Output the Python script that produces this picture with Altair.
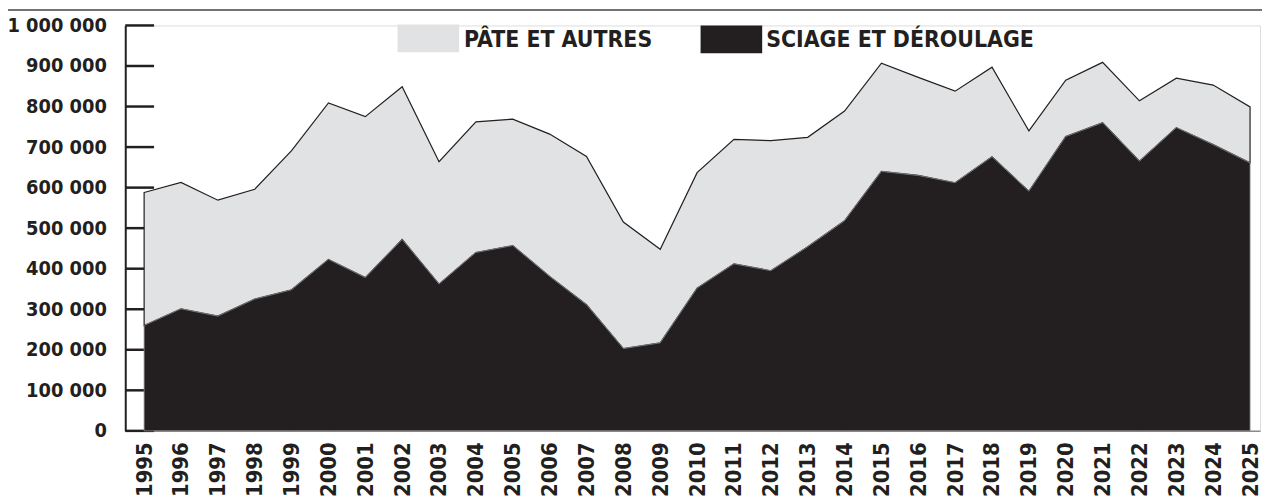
import altair as alt
import pandas as pd

years = list(range(1995, 2026))
sciage = [260000, 301000, 283000, 325000, 348000, 423000, 378000, 472000, 362000, 440000,
          457000, 381000, 311000, 203000, 217000, 352000, 412000, 395000, 454000, 518000,
          640000, 630000, 612000, 676000, 591000, 726000, 760000, 665000, 748000, 706000,
          661000]
pate = [328000, 312000, 286000, 271000, 343000, 386000, 397000, 377000, 302000, 322000,
        312000, 351000, 366000, 312000, 231000, 285000, 307000, 321000, 270000, 271000,
        267000, 242000, 226000, 221000, 149000, 139000, 149000, 149000, 122000, 147000,
        138000]
y_ticks = [0, 100000, 200000, 300000, 400000, 500000, 600000, 700000, 800000, 900000, 1000000]
legend_labels = ["PÂTE ET AUTRES", "SCIAGE ET DÉROULAGE"]

BLACK = "#231f20"
GRAY = "#e1e2e4"
FONT = "Liberation Sans Narrow, DejaVu Sans Condensed, sans-serif"

df = pd.DataFrame({"annee": years, "sciage": sciage, "pate": pate})

x_scale = alt.Scale(domain=[1994.488, 2025.27], nice=False, zero=False)
y_scale = alt.Scale(domain=[0, 1000000], nice=False)

x_axis = alt.Axis(values=years, format="d", labelAngle=270, labelAlign="right",
                  labelBaseline="middle", labelPadding=11, ticks=False, grid=False,
                  labelOverlap=False, labelFlush=False,
                  domainColor="#8a8a8a", domainWidth=1.5, title=None)
y_axis = alt.Axis(values=y_ticks, ticks=False, grid=False, domainColor=BLACK,
                  domainWidth=2, labelPadding=19, title=None,
                  labelOverlap=False, labelFlush=False,
                  labelExpr="replace(replace(datum.label, ',', ' '), ',', ' ')")

base = alt.Chart(df).transform_calculate(total="datum.sciage + datum.pate")

ticks = alt.Chart(pd.DataFrame({"v": y_ticks})).mark_rule(
    color=BLACK, strokeWidth=2.5
).encode(
    y=alt.Y("v:Q", scale=y_scale, axis=y_axis),
    x=alt.value(0),
    x2=alt.value(29),
)

gray_area = base.mark_area(
    color=GRAY, stroke=BLACK, strokeWidth=1.2
).encode(
    x=alt.X("annee:Q", scale=x_scale, axis=x_axis),
    y=alt.Y("total:Q", scale=y_scale, axis=y_axis),
    y2="sciage:Q",
)

black_area = base.mark_area(color=BLACK, stroke="#8a8a8a", strokeWidth=0.8).encode(
    x=alt.X("annee:Q", scale=x_scale, axis=x_axis),
    y=alt.Y("sciage:Q", scale=y_scale, axis=y_axis),
    y2=alt.datum(0),
)

one = alt.Data(values=[{"a": 1}])
top_line = alt.Chart(one).mark_rule(color="#444444", strokeWidth=1.5).encode(
    x=alt.value(-130), x2=alt.value(1160), y=alt.value(-15.5)
)
sw1 = alt.Chart(one).mark_rect(color=GRAY).encode(
    x=alt.value(274), x2=alt.value(336), y=alt.value(-1), y2=alt.value(27)
)
sw2 = alt.Chart(one).mark_rect(color=BLACK).encode(
    x=alt.value(579), x2=alt.value(641), y=alt.value(0), y2=alt.value(28)
)
lab1 = alt.Chart(one).mark_text(
    text=legend_labels[0], font=FONT, fontWeight="bold", fontSize=23, color=BLACK,
    align="left", baseline="middle"
).encode(x=alt.value(341), y=alt.value(15))
lab2 = alt.Chart(one).mark_text(
    text=legend_labels[1], font=FONT, fontWeight="bold", fontSize=23, color=BLACK,
    align="left", baseline="middle"
).encode(x=alt.value(645), y=alt.value(15))

chart = alt.layer(
    ticks, gray_area, black_area, top_line, sw1, sw2, lab1, lab2
).properties(
    width=1142, height=408,
    autosize=alt.AutoSizeParams(type="none"),
    padding={"left": 118, "top": 16, "right": 2, "bottom": 66},
).configure_view(stroke=None).configure(background="white").configure_axis(
    labelFont=FONT, labelFontWeight="bold", labelColor=BLACK
).configure_axisX(labelFontSize=22).configure_axisY(labelFontSize=20)

chart.save("out.html", embed_options={"renderer": "svg", "actions": False})
